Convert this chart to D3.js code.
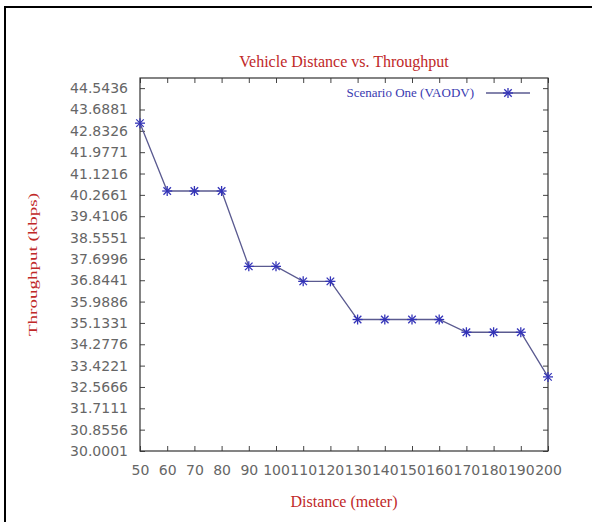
<!DOCTYPE html>
<html>
<head>
<meta charset="utf-8">
<script src="https://cdn.jsdelivr.net/npm/d3@7"></script>
<style>
  body { margin: 0; background: #fff; }
  svg { display: block; }
</style>
</head>
<body>
<div id="chart"></div>
<script>
const distances = [50, 60, 70, 80, 90, 100, 110, 120, 130, 140, 150, 160, 170, 180, 190, 200];
const throughput = [43.14, 40.42, 40.42, 40.42, 37.40, 37.40, 36.80, 36.80, 35.27, 35.27, 35.27, 35.27, 34.76, 34.76, 34.76, 32.97];
const yTicks = [30.0001, 30.8556, 31.7111, 32.5666, 33.4221, 34.2776, 35.1331, 35.9886, 36.8441,
  37.6996, 38.5551, 39.4106, 40.2661, 41.1216, 41.9771, 42.8326, 43.6881, 44.5436];
const seriesName = "Scenario One (VAODV)";

const W = 592, H = 522;
const margin = { top: 78, right: 44, bottom: 71, left: 140 };
const width = W - margin.left - margin.right;
const height = H - margin.top - margin.bottom;

const svg = d3.select("#chart").append("svg")
  .attr("width", W)
  .attr("height", H);

// outer frame (left and top edges visible)
svg.append("line").attr("x1", 5).attr("x2", 5).attr("y1", 6).attr("y2", H)
  .attr("stroke", "#000").attr("stroke-width", 2);
svg.append("line").attr("x1", 4).attr("x2", W).attr("y1", 7).attr("y2", 7)
  .attr("stroke", "#000").attr("stroke-width", 2);

const g = svg.append("g").attr("transform", `translate(${margin.left},${margin.top})`);

const x = d3.scaleLinear().domain([50, 200]).range([0, width]);
const y = d3.scaleLinear().domain([30.0001, 44.95]).range([height, 0]);

const tickFont = "DejaVu Sans, sans-serif";

function styleAxis(sel) {
  sel.select(".domain").remove();
  sel.selectAll(".tick line").attr("stroke", "#444");
  sel.selectAll(".tick text").attr("fill", "#666").style("font-family", tickFont).style("font-size", "14px");
}

// bottom axis, ticks pointing in
g.append("g").attr("transform", `translate(0,${height})`)
  .call(d3.axisBottom(x).tickValues(distances).tickFormat(d3.format("d")).tickSizeInner(-5).tickSizeOuter(0).tickPadding(14))
  .call(styleAxis);
// top mirror ticks
g.append("g")
  .call(d3.axisTop(x).tickValues(distances).tickFormat("").tickSizeInner(-5).tickSizeOuter(0))
  .call(styleAxis);
// left axis
g.append("g")
  .call(d3.axisLeft(y).tickValues(yTicks).tickFormat(d3.format(".4f")).tickSizeInner(-5).tickSizeOuter(0).tickPadding(12))
  .call(styleAxis);
// right mirror ticks
g.append("g").attr("transform", `translate(${width},0)`)
  .call(d3.axisRight(y).tickValues(yTicks).tickFormat("").tickSizeInner(-5).tickSizeOuter(0))
  .call(styleAxis);

g.append("rect")
  .attr("width", width).attr("height", height)
  .attr("fill", "none").attr("stroke", "#333").attr("stroke-width", 1.2);

// data line
const pts = distances.map((d, i) => ({ x: d, y: throughput[i] }));
const line = d3.line().x(d => x(d.x)).y(d => y(d.y));
g.append("path").datum(pts)
  .attr("d", line)
  .attr("fill", "none")
  .attr("stroke", "#5a5a90")
  .attr("stroke-width", 1.3);

function star(sel, cx, cy, r) {
  const s = sel.append("g").attr("transform", `translate(${cx},${cy})`)
    .attr("stroke", "#3434b8").attr("stroke-width", 1.3);
  s.append("line").attr("x1", -r).attr("x2", r).attr("y1", 0).attr("y2", 0);
  s.append("line").attr("x1", 0).attr("x2", 0).attr("y1", -r).attr("y2", r);
  s.append("line").attr("x1", -r * 0.75).attr("x2", r * 0.75).attr("y1", -r * 0.75).attr("y2", r * 0.75);
  s.append("line").attr("x1", -r * 0.75).attr("x2", r * 0.75).attr("y1", r * 0.75).attr("y2", -r * 0.75);
}
pts.forEach(p => star(g, x(p.x), y(p.y), 5));

// legend
const lx = 486 - margin.left, ly = 93 - margin.top;
g.append("text")
  .attr("x", lx - 12).attr("y", ly + 4)
  .attr("text-anchor", "end")
  .attr("fill", "#3a3ab0")
  .style("font-family", "Liberation Serif, serif")
  .style("font-size", "13px")
  .text(seriesName);
g.append("line").attr("x1", lx).attr("x2", lx + 44).attr("y1", ly).attr("y2", ly)
  .attr("stroke", "#5a5a90").attr("stroke-width", 1.3);
star(g, lx + 22, ly, 5);

// title and axis labels
svg.append("text")
  .attr("x", margin.left + width / 2).attr("y", 67)
  .attr("text-anchor", "middle")
  .attr("fill", "#c02828")
  .style("font-family", "Liberation Serif, serif")
  .style("font-size", "16px")
  .text("Vehicle Distance vs. Throughput");

svg.append("text")
  .attr("x", margin.left + width / 2).attr("y", 507)
  .attr("text-anchor", "middle")
  .attr("fill", "#c02828")
  .style("font-family", "Liberation Serif, serif")
  .style("font-size", "16px")
  .text("Distance (meter)");

svg.append("text")
  .attr("transform", `translate(37,${margin.top + height / 2}) rotate(-90)`)
  .attr("text-anchor", "middle")
  .attr("fill", "#c02828")
  .attr("textLength", 143)
  .attr("lengthAdjust", "spacingAndGlyphs")
  .style("font-family", "Liberation Serif, serif")
  .style("font-size", "13px")
  .text("Throughput (kbps)");
</script>
</body>
</html>
